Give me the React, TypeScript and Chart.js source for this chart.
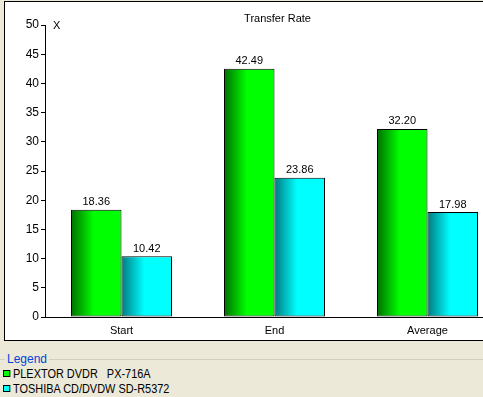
import React, { useEffect, useRef } from "react";
import { Chart, registerables } from "chart.js";

Chart.register(...registerables);

const categories = ["Start", "End", "Average"];
const plextorValues = [18.36, 42.49, 32.2];
const toshibaValues = [10.42, 23.86, 17.98];
const seriesNames = ["PLEXTOR DVDR   PX-716A", "TOSHIBA CD/DVDW SD-R5372"];
const chartTitle = "Transfer Rate";
const axisMarker = "X";

const FONT = "'Liberation Sans', Arial, sans-serif";

const gradients = [
  { dark: "#006e00", light: "#00ff00" },
  { dark: "#007a80", light: "#00ffff" },
];

const gradientPlugin = {
  id: "barGradient",
  beforeDatasetsDraw(chart: any) {
    const ctx = chart.ctx;
    chart.data.datasets.forEach((_ds: any, di: number) => {
      const meta = chart.getDatasetMeta(di);
      const g = gradients[di % gradients.length];
      meta.data.forEach((el: any) => {
        const { x, width } = el.getProps(["x", "width"], true);
        const left = x - width / 2;
        const grad = ctx.createLinearGradient(left, 0, left + width, 0);
        grad.addColorStop(0, g.dark);
        grad.addColorStop(0.45, g.light);
        grad.addColorStop(1, g.light);
        el.options = Object.assign({}, el.options, { backgroundColor: grad });
      });
    });
  },
};

const labelPlugin = {
  id: "valueLabels",
  afterDatasetsDraw(chart: any) {
    const ctx = chart.ctx;
    ctx.save();
    ctx.fillStyle = "#000";
    ctx.font = `11px ${FONT}`;
    ctx.textAlign = "center";
    ctx.textBaseline = "bottom";
    chart.data.datasets.forEach((ds: any, di: number) => {
      const meta = chart.getDatasetMeta(di);
      meta.data.forEach((el: any, i: number) => {
        const { x, y } = el.getProps(["x", "y"], true);
        ctx.fillText(Number(ds.data[i]).toFixed(2), x, y - 2);
      });
    });
    const area = chart.chartArea;
    ctx.textBaseline = "middle";
    ctx.fillText(chartTitle, (area.left + area.right) / 2 + 3, area.top - 6);
    ctx.textAlign = "left";
    ctx.fillText(axisMarker, area.left + 8, area.top + 1);
    ctx.restore();
  },
};

export default function App() {
  const canvasRef = useRef<HTMLCanvasElement | null>(null);

  useEffect(() => {
    if (!canvasRef.current) return;
    const chart = new Chart(canvasRef.current, {
      type: "bar",
      data: {
        labels: categories,
        datasets: [
          {
            label: seriesNames[0],
            data: plextorValues,
            backgroundColor: "#00ff00",
            borderColor: "#000",
            borderWidth: 1,
            borderSkipped: false,
          },
          {
            label: seriesNames[1],
            data: toshibaValues,
            backgroundColor: "#00ffff",
            borderColor: "#000",
            borderWidth: 1,
            borderSkipped: false,
          },
        ],
      },
      options: {
        animation: false,
        responsive: false,
        maintainAspectRatio: false,
        devicePixelRatio: 1,
        categoryPercentage: 0.66,
        barPercentage: 1,
        layout: { padding: { top: 23, right: 0, left: 0, bottom: 0 } },
        plugins: {
          legend: { display: false },
          tooltip: { enabled: false },
          title: { display: false },
        },
        scales: {
          x: {
            grid: { drawOnChartArea: false, drawTicks: false },
            border: { display: true, color: "#000", width: 1 },
            ticks: {
              color: "#000",
              font: { family: FONT, size: 11 },
              padding: 7,
              maxRotation: 0,
            },
            afterFit(scale: any) {
              scale.height = 23;
            },
          },
          y: {
            min: 0,
            max: 50,
            grid: {
              drawOnChartArea: false,
              drawTicks: true,
              tickLength: 4,
              color: "#000",
            },
            border: { display: true, color: "#000", width: 1 },
            ticks: {
              stepSize: 5,
              color: "#000",
              font: { family: FONT, size: 12 },
              padding: 2,
            },
            afterFit(scale: any) {
              scale.width = 40;
            },
          },
        },
      },
      plugins: [gradientPlugin, labelPlugin],
    });
    return () => chart.destroy();
  }, []);

  return (
    <div
      style={{
        position: "fixed",
        left: 0,
        top: 0,
        width: 483,
        height: 397,
        overflow: "hidden",
        background: "#ECE9D8",
        fontFamily: FONT,
      }}
    >
      <div
        style={{
          position: "absolute",
          left: 4,
          top: 1,
          width: 560,
          height: 340,
          boxSizing: "border-box",
          border: "1px solid #000",
          background: "#fff",
        }}
      >
        <canvas
          ref={canvasRef}
          width={499}
          height={338}
          style={{ display: "block", width: 499, height: 338 }}
        />
      </div>
      <div
        style={{
          position: "absolute",
          left: 0,
          top: 359,
          width: 483,
          height: 1,
          background: "#D0D0BF",
        }}
      />
      <div
        style={{
          position: "absolute",
          left: 5,
          top: 352,
          padding: "0 2px",
          background: "#ECE9D8",
          color: "#0046D5",
          fontSize: 12,
          lineHeight: "15px",
        }}
      >
        Legend
      </div>
      {seriesNames.map((name, i) => (
        <div
          key={name}
          style={{
            position: "absolute",
            left: 3,
            top: 366 + i * 15,
            height: 15,
            display: "flex",
            alignItems: "center",
            fontSize: 12,
            color: "#000",
            whiteSpace: "pre",
            transform: "scaleX(0.91)",
            transformOrigin: "left center",
          }}
        >
          <span
            style={{
              display: "inline-block",
              width: 8,
              height: 7,
              boxSizing: "border-box",
              border: "1px solid #000",
              background: i === 0 ? "#00ff00" : "#00ffff",
              marginRight: 3,
            }}
          />
          {name}
        </div>
      ))}
    </div>
  );
}
